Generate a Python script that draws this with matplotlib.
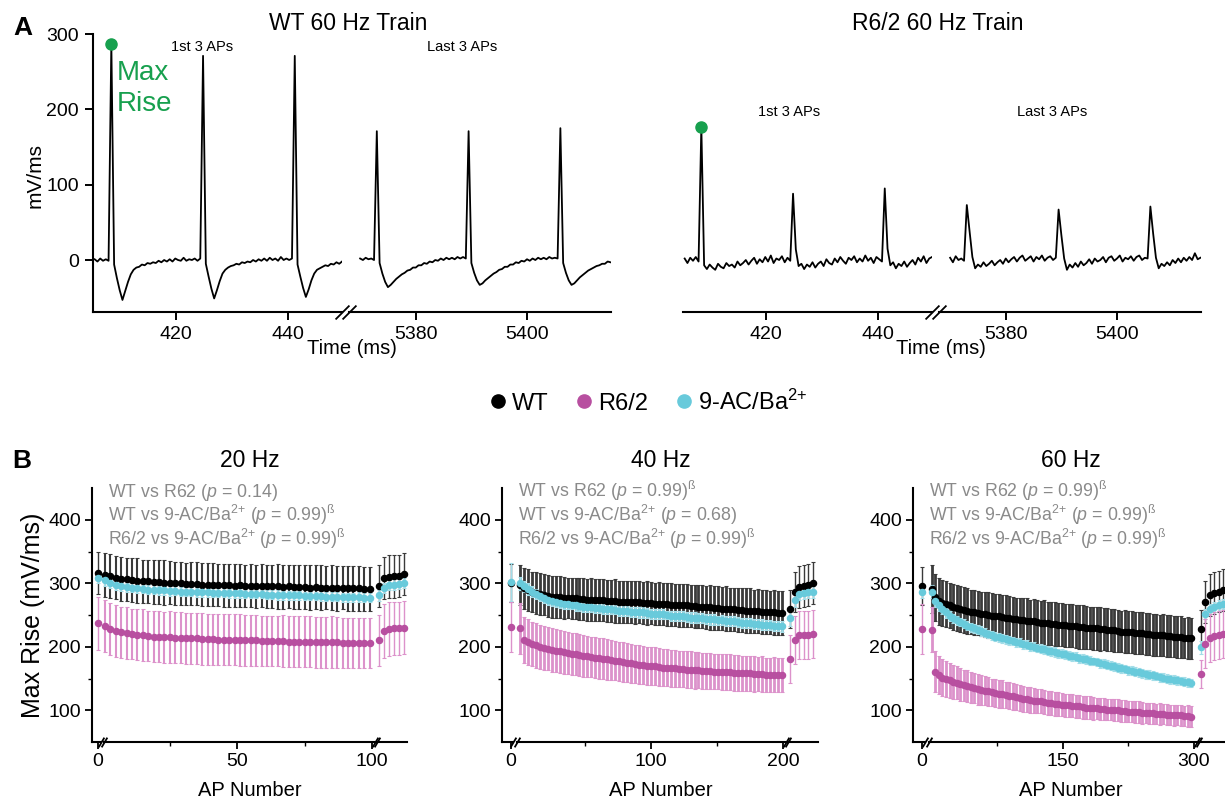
import matplotlib.pyplot as plt
from matplotlib.lines import Line2D
import numpy as np

plt.rcParams['font.family'] = ['Liberation Sans', 'DejaVu Sans']
plt.rcParams['mathtext.fontset'] = 'custom'
plt.rcParams['mathtext.rm'] = 'Liberation Sans'
plt.rcParams['mathtext.it'] = 'Liberation Sans:italic'
plt.rcParams['mathtext.bf'] = 'Liberation Sans:bold'

# colours
c_wt = 'black'
c_r62 = '#b84fa0'
c_ac = '#68cadb'
e_wt = '#3a3a3a'
e_r62 = '#dc92cb'
e_ac = '#a3dde8'
c_green = '#17a04e'
c_stat = '#8a8a8a'

# ---------------- panel A : dV/dt traces, sampled every 0.5 ms ----------------
dt = 0.5
t0_first = 405.3     # first 3 APs
t0_last = 5370.0     # last 3 APs

wt_first = [1, -2, 2, -1, 1, -1, 287, -6, -24, -40, -53, -41, -29, -19, -13, -10, -9, -6, -7, -4,
            -5, -3, -4, -1, -3, 0, -2, 1, -2, 2, 0, -1, 3, -1, 1, 0, 2, -1, 2, 271,
            -5, -22, -38, -51, -40, -28, -18, -13, -10, -8, -7, -5, -6, -3, -4, -2, -3, 0, -2, 1,
            -1, 2, -1, 3, 0, 2, -1, 4, 0, 2, 0, 2, 271, -6, -22, -37, -49, -39, -27, -18,
            -13, -11, -9, -7, -8, -5, -6, -3, -5, -2]
wt_last = [2, 0, 3, 1, 2, 0, 171, -4, -18, -29, -36, -33, -29, -25, -22, -19, -17, -14, -13, -10,
           -10, -7, -7, -4, -5, -2, -3, 0, -1, 2, 0, 3, 1, 3, 1, 4, 2, 4, 2, 171,
           -4, -17, -27, -33, -31, -27, -24, -21, -18, -16, -13, -12, -9, -9, -6, -6, -3, -4, -1, -2,
           1, -1, 2, 0, 3, 1, 3, 1, 4, 2, 3, 2, 175, -4, -17, -27, -33, -31, -27, -23,
           -20, -17, -14, -12, -10, -8, -7, -5, -5, -2, -3]
r62_first = [2, -4, 3, -1, 4, -2, 177, -7, -12, -6, -10, -13, -5, -9, -11, -4,
             -8, -6, -10, -2, -7, -4, 0, -6, -1, 3, -5, 1, -3, 4, -2, 6, -4, 2, 0, 5, -3, 3, -1, 88,
             14, -8, -5, -12, -6, -9, -3, -10, -5, -2, -8, 1, -4, -6, 2, -3, 4, -1, -5, 3,
             0, 5, -3, 2, -2, 6, -1, 3, -4, 4, 1, -2, 95, 15, -7, -3, -11, -5, -8, -2,
             -9, -4, 0, -6, 3, -2, 5, -4, 2, 4]
r62_last = [3, -3, 5, 0, 2, -1, 73, 38, 4, -11, -6, -9, -3, -8, -5, -1, -7, -3, 0,
            -5, 2, -3, 1, 4, -2, 3, 6, -1, 2, 5, -2, 4, 1, 6, -1, 3, 5, 0, 3, 67,
            33, 2, -13, -6, -10, -4, -9, -2, -7, -4, 1, -5, 2, -2, 0, 4, -3, 3, 5, -1,
            2, 6, -2, 3, 1, 5, -1, 4, 6, 0, 3, 2, 71, 35, 3, -11, -5, -8, -3, -7,
            0, -4, 2, -3, 3, -1, 4, 0, 9, 1, 3]

# ---------------- panel B : max rise per AP ----------------
rec_n = [1, 2, 3, 4, 5, 6]   # recovery APs after the train

# 20 Hz (every 2nd AP shown)
ap_20 = list(range(1, 101, 2))
wt_20 = [313, 311, 309, 307, 306, 305, 304, 303, 303, 302, 302, 301, 301, 300, 300, 299, 299, 299, 298, 298,
         298, 297, 297, 297, 296, 297, 296, 296, 295, 296, 295, 295, 295, 294, 295, 294, 294, 294, 293, 294,
         293, 293, 293, 292, 293, 292, 292, 292, 291, 291]
wt_20_sem = [35, 35, 34, 35, 34, 34, 35, 34, 34, 34, 34, 35, 34, 34, 34, 33, 34, 34, 34, 34,
             34, 33, 34, 34, 34, 34, 33, 34, 34, 34, 34, 34, 35, 34, 34, 34, 34, 34, 35, 34,
             35, 34, 35, 35, 34, 35, 35, 35, 35, 35]
ac_20 = [305, 301, 298, 296, 294, 293, 292, 291, 290, 290, 289, 289, 288, 288, 287, 287, 287, 286, 286, 286,
         285, 285, 285, 284, 284, 284, 283, 283, 283, 283, 282, 282, 282, 281, 281, 281, 281, 280, 280, 280,
         280, 279, 279, 279, 278, 278, 278, 278, 277, 277]
ac_20_sem = [9, 8, 8, 8, 7, 7, 8, 7, 7, 7, 7, 7, 8, 7, 7, 7, 7, 7, 7, 8,
             7, 7, 7, 7, 7, 8, 7, 7, 7, 7, 7, 7, 8, 7, 7, 7, 7, 7, 7, 7,
             8, 7, 7, 7, 7, 7, 7, 8, 7, 7]
r62_20 = [232, 228, 225, 223, 221, 220, 219, 218, 217, 216, 216, 215, 215, 214, 214, 213, 213, 213, 212, 212,
          212, 211, 211, 211, 211, 210, 210, 210, 210, 209, 209, 209, 209, 209, 208, 208, 208, 208, 208, 207,
          207, 207, 207, 207, 206, 206, 206, 206, 206, 206]
r62_20_sem = [41, 41, 41, 40, 41, 40, 40, 41, 40, 40, 40, 40, 41, 40, 40, 40, 40, 40, 41, 40,
              40, 40, 40, 40, 40, 41, 40, 40, 40, 40, 40, 40, 40, 41, 40, 40, 40, 40, 40, 40,
              40, 40, 41, 40, 40, 40, 40, 40, 40, 40]
pre_20 = [316, 309, 237]          # WT, 9-AC/Ba, R6/2
pre_20_sem = [33, 8, 42]
wt_20_rec = [295, 308, 310, 311, 312, 315]
wt_20_rec_sem = [33, 33, 34, 34, 33, 33]
ac_20_rec = [281, 293, 297, 298, 299, 300]
ac_20_rec_sem = [9, 8, 8, 8, 8, 8]
r62_20_rec = [210, 225, 228, 229, 229, 230]
r62_20_rec_sem = [40, 42, 42, 42, 42, 42]

# 40 Hz (every 3rd AP shown)
ap_40 = list(range(1, 201, 3))
wt_40 = [297, 292, 289, 286, 284, 283, 282, 280, 279, 278, 278, 277, 277, 276, 276, 275, 275, 274, 274, 273,
         273, 273, 272, 272, 272, 271, 271, 271, 270, 270, 270, 269, 269, 269, 268, 268, 267, 267, 266, 266,
         265, 265, 265, 264, 264, 263, 263, 262, 262, 261, 261, 260, 260, 259, 259, 258, 258, 257, 257, 256,
         256, 255, 255, 254, 254, 253, 253]
wt_40_sem = [32, 32, 33, 32, 33, 33, 32, 33, 33, 33, 33, 33, 32, 33, 33, 33, 33, 33, 34, 33,
             33, 33, 33, 33, 34, 33, 33, 33, 33, 34, 33, 33, 34, 33, 33, 34, 33, 34, 34, 33,
             34, 34, 34, 33, 34, 34, 34, 34, 35, 34, 34, 34, 35, 34, 34, 35, 34, 35, 35, 34,
             35, 35, 35, 34, 35, 35, 35]
ac_40 = [300, 295, 291, 287, 283, 280, 277, 274, 272, 270, 269, 268, 267, 266, 265, 264, 263, 263, 262, 261,
         261, 260, 259, 259, 258, 257, 257, 256, 255, 255, 254, 254, 253, 252, 252, 251, 251, 250, 249, 249,
         248, 248, 247, 246, 246, 245, 245, 244, 243, 243, 242, 242, 241, 240, 240, 239, 238, 238, 237, 236,
         236, 235, 234, 234, 233, 233, 232]
ac_40_sem = [10, 9, 9, 9, 8, 8, 8, 8, 8, 8, 8, 8, 8, 7, 8, 8, 8, 8, 8, 8,
             8, 8, 8, 8, 7, 8, 8, 8, 8, 8, 8, 8, 8, 8, 8, 8, 8, 7, 8, 8,
             8, 8, 8, 8, 8, 8, 8, 8, 8, 8, 7, 8, 8, 8, 8, 8, 8, 8, 8, 8,
             8, 8, 8, 8, 8, 8, 8]
r62_40 = [229, 211, 207, 204, 202, 200, 198, 197, 195, 194, 193, 191, 190, 189, 188, 187, 186, 185, 184, 183,
          182, 181, 180, 179, 178, 177, 176, 175, 174, 173, 172, 171, 170, 169, 169, 168, 167, 167, 166, 166,
          165, 165, 164, 164, 163, 163, 162, 162, 162, 161, 161, 160, 160, 160, 159, 159, 158, 158, 158, 157,
          157, 157, 156, 156, 156, 155, 155]
r62_40_sem = [40, 36, 36, 35, 35, 35, 35, 34, 34, 34, 34, 34, 33, 33, 33, 33, 33, 32, 32, 32,
              32, 32, 32, 31, 31, 31, 31, 31, 31, 30, 30, 30, 30, 30, 30, 30, 29, 29, 29, 29,
              29, 29, 29, 29, 29, 28, 28, 28, 28, 28, 28, 28, 28, 28, 28, 28, 28, 27, 28, 28,
              27, 28, 27, 27, 28, 27, 27]
pre_40 = [300, 302, 231]
pre_40_sem = [30, 30, 40]
wt_40_rec = [260, 286, 294, 296, 297, 300]
wt_40_rec_sem = [30, 32, 33, 33, 33, 33]
ac_40_rec = [245, 273, 283, 285, 286, 286]
ac_40_rec_sem = [12, 10, 10, 10, 10, 10]
r62_40_rec = [181, 211, 218, 219, 219, 220]
r62_40_rec_sem = [38, 38, 38, 38, 38, 38]

# 60 Hz (every 4th AP shown)
ap_60 = list(range(1, 301, 4))
wt_60 = [291, 278, 272, 269, 267, 265, 263, 261, 259, 258, 256, 255, 254, 253, 252, 251, 250, 249, 248, 248,
         247, 246, 245, 244, 243, 242, 242, 241, 240, 240, 239, 238, 238, 237, 236, 236, 235, 235, 234, 233,
         233, 232, 231, 231, 230, 230, 229, 229, 228, 228, 227, 226, 226, 225, 224, 224, 223, 223, 222, 222,
         221, 220, 220, 219, 219, 218, 218, 217, 217, 216, 215, 215, 214, 214, 213]
wt_60_sem = [38, 37, 37, 36, 36, 36, 36, 36, 36, 36, 36, 35, 36, 35, 35, 35, 36, 35, 35, 35,
             35, 35, 35, 35, 34, 35, 35, 35, 34, 35, 35, 34, 35, 34, 34, 35, 34, 34, 34, 34,
             34, 34, 34, 34, 34, 33, 34, 34, 34, 33, 34, 33, 34, 33, 33, 34, 33, 33, 33, 33,
             33, 33, 33, 33, 33, 32, 33, 33, 33, 32, 33, 33, 32, 33, 33]
ac_60 = [287, 272, 265, 259, 254, 249, 245, 242, 239, 236, 233, 231, 229, 227, 225, 222, 220, 218, 216, 215,
         213, 212, 210, 209, 207, 206, 204, 203, 201, 200, 198, 197, 196, 194, 193, 192, 190, 189, 188, 186,
         185, 184, 182, 181, 180, 178, 177, 176, 174, 173, 172, 170, 169, 167, 166, 165, 163, 162, 161, 160,
         158, 157, 156, 155, 154, 152, 151, 150, 149, 148, 147, 146, 145, 144, 143]
ac_60_sem = [10, 9, 8, 8, 8, 8, 7, 7, 7, 7, 7, 7, 7, 7, 8, 7, 7, 7, 7, 7,
             7, 7, 7, 6, 7, 7, 7, 7, 7, 7, 7, 7, 7, 7, 7, 8, 7, 7, 7, 7,
             7, 7, 7, 7, 7, 7, 6, 7, 7, 7, 7, 7, 7, 7, 7, 7, 7, 7, 7, 7,
             7, 7, 7, 7, 7, 7, 7, 7, 7, 7, 7, 7, 7, 7, 7]
r62_60 = [227, 161, 155, 151, 149, 147, 145, 143, 141, 139, 138, 136, 135, 133, 132, 131, 130, 128, 127, 126,
          125, 124, 123, 122, 121, 119, 118, 117, 116, 115, 115, 114, 113, 112, 111, 110, 110, 109, 108, 108,
          107, 106, 106, 105, 104, 104, 103, 103, 102, 102, 101, 101, 100, 100, 99, 99, 98, 98, 97, 97,
          96, 96, 95, 95, 94, 94, 94, 93, 93, 92, 92, 92, 91, 91, 90]
r62_60_sem = [36, 32, 30, 29, 28, 27, 27, 26, 26, 25, 25, 24, 24, 24, 23, 23, 23, 22, 22, 22,
              22, 21, 21, 21, 21, 20, 20, 20, 20, 20, 19, 19, 19, 19, 19, 19, 19, 18, 18, 18,
              18, 18, 18, 18, 18, 18, 18, 17, 17, 17, 17, 17, 17, 17, 17, 17, 17, 17, 17, 17,
              17, 16, 17, 17, 16, 17, 16, 17, 16, 17, 16, 17, 16, 17, 17]
pre_60 = [296, 287, 228]
pre_60_sem = [30, 10, 40]
wt_60_rec = [228, 270, 281, 285, 287, 290]
wt_60_rec_sem = [30, 33, 33, 33, 33, 33]
ac_60_rec = [199, 252, 260, 263, 265, 267]
ac_60_rec_sem = [10, 8, 8, 8, 8, 8]
r62_60_rec = [157, 205, 214, 217, 219, 220]
r62_60_rec_sem = [22, 38, 38, 38, 38, 38]

beta = r'$^{\mathrm{ß}}$'
ba = r'Ba$^{2{+}}$'
stats_20 = ['WT vs R62 ($p$ = 0.14)',
            'WT vs 9-AC/' + ba + ' ($p$ = 0.99)' + beta,
            'R6/2 vs 9-AC/' + ba + ' ($p$ = 0.99)' + beta]
stats_40 = ['WT vs R62 ($p$ = 0.99)' + beta,
            'WT vs 9-AC/' + ba + ' ($p$ = 0.68)',
            'R6/2 vs 9-AC/' + ba + ' ($p$ = 0.99)' + beta]
stats_60 = ['WT vs R62 ($p$ = 0.99)' + beta,
            'WT vs 9-AC/' + ba + ' ($p$ = 0.99)' + beta,
            'R6/2 vs 9-AC/' + ba + ' ($p$ = 0.99)' + beta]

groups = ['WT', 'R6/2', '9-AC/' + ba]
group_colors = [c_wt, c_r62, c_ac]

# ---------------- figure ----------------
W, H = 1225, 801
fig = plt.figure(figsize=(W / 100, H / 100), dpi=100)


def box(x0, y0, x1, y1):
    # pixel rectangle (from top-left) -> figure fraction
    return [x0 / W, 1 - y1 / H, (x1 - x0) / W, (y1 - y0) / H]


def ftext(x, y, s, **kw):
    return fig.text(x / W, 1 - y / H, s, **kw)


def slash(ax, xa, ms, slope):
    ax.plot([xa], [0], transform=ax.transAxes, marker=[(-1, -slope), (1, slope)],
            ms=ms, mew=1.3, color='k', mec='k', ls='none', clip_on=False, zorder=6)


def style(ax, left):
    ax.patch.set_visible(False)
    ax.spines['top'].set_visible(False)
    ax.spines['right'].set_visible(False)
    ax.spines['left'].set_visible(left)
    ax.spines['left'].set_linewidth(1.5)
    ax.spines['bottom'].set_linewidth(1.5)
    if not left:
        ax.tick_params(axis='y', which='both', left=False, labelleft=False)


def trace_panel(x_left, first, last, show_y):
    t_first = t0_first + dt * np.arange(len(first))
    t_last = t0_last + dt * np.arange(len(last))
    ax1 = fig.add_axes(box(x_left, 34, x_left + 249, 312))
    ax2 = fig.add_axes(box(x_left + 256, 34, x_left + 518, 312))
    ax1.plot(t_first, first, color='k', lw=1.3)
    ax2.plot(t_last, last, color='k', lw=1.3)
    ax1.set_xlim(405, 449.8)
    ax2.set_xlim(5368, 5415.1)
    for ax in (ax1, ax2):
        ax.set_ylim(-69, 300)
        style(ax, ax is ax1 and show_y)
        ax.tick_params(length=6, width=1.4, labelsize=14, pad=4)
    ax1.set_xticks([420, 440])
    ax2.set_xticks([5380, 5400])
    ax1.set_yticks([0, 100, 200, 300])
    k = int(np.argmax(first))
    ax1.plot(t_first[k], first[k], 'o', color=c_green, ms=8, clip_on=False, zorder=5)
    slash(ax1, 1, 10, 1.0)
    slash(ax2, 0, 10, 1.0)
    return ax1, ax2


wt_ax1, wt_ax2 = trace_panel(93, wt_first, wt_last, True)
r62_ax1, r62_ax2 = trace_panel(683, r62_first, r62_last, False)

ftext(23, 28, 'A', fontsize=19, fontweight='bold', ha='center', va='center')
ftext(348, 23, 'WT 60 Hz Train', fontsize=16.5, ha='center', va='center')
ftext(938, 23, 'R6/2 60 Hz Train', fontsize=16.5, ha='center', va='center')
ftext(202, 47, '1st 3 APs', fontsize=10.5, ha='center', va='center')
ftext(462, 47, 'Last 3 APs', fontsize=10.5, ha='center', va='center')
ftext(789, 112, '1st 3 APs', fontsize=10.5, ha='center', va='center')
ftext(1052, 112, 'Last 3 APs', fontsize=10.5, ha='center', va='center')
ftext(117, 60, 'Max\nRise', fontsize=20, color=c_green, ha='left', va='top', linespacing=1.25)
ftext(35, 176, 'mV/ms', fontsize=15, rotation=90, ha='center', va='center')
ftext(352, 349, 'Time (ms)', fontsize=14.5, ha='center', va='center')
ftext(941, 349, 'Time (ms)', fontsize=14.5, ha='center', va='center')

handles = [Line2D([], [], marker='o', ls='none', color=c, ms=9.5) for c in group_colors]
fig.legend(handles, groups, loc='center', bbox_to_anchor=(647 / W, 1 - 402 / H), ncol=3,
           frameon=False, fontsize=17, handletextpad=0.1, columnspacing=1.0, handlelength=1.0,
           borderaxespad=0)


def draw(ax, x, y, e, color, ecolor, elw):
    ax.errorbar(x, y, yerr=e, fmt='o', ms=4.4, color=color, mec=color, ecolor=ecolor,
                elinewidth=elw, capsize=1.5, capthick=0.8, clip_on=False)


def rise_panel(segs, major, minor, ap, series, pre, pre_sem, title, title_x, stats, elw):
    (a_px, a_lim), (b_px, b_lim), (c_px, c_lim) = segs
    ax_a = fig.add_axes(box(a_px[0], 488, a_px[1], 742))
    ax_b = fig.add_axes(box(b_px[0], 488, b_px[1], 742))
    ax_c = fig.add_axes(box(c_px[0], 488, c_px[1], 742))
    for ax, lim in ((ax_a, a_lim), (ax_b, b_lim), (ax_c, c_lim)):
        ax.set_xlim(*lim)
        ax.set_ylim(50, 450)
        style(ax, ax is ax_a)
        ax.tick_params(which='major', length=5, width=1.3, labelsize=14, pad=3)
        ax.tick_params(which='minor', length=3, width=1.0)
    ax_a.set_yticks([100, 200, 300, 400])
    ax_a.set_yticks([150, 250, 350], minor=True)
    ax_a.set_xticks([0])
    ax_b.set_xticks(major)
    ax_b.set_xticks(minor, minor=True)
    ax_c.set_xticks([])
    for i, (mean, sem, rec, rec_sem, color, ecolor) in enumerate(series):
        draw(ax_a, [0], [pre[i]], [pre_sem[i]], color, ecolor, 1.0)
        draw(ax_b, ap, mean, sem, color, ecolor, elw)
        draw(ax_c, rec_n, rec, rec_sem, color, ecolor, 1.0)
    slash(ax_a, 1, 7, 1.7)
    slash(ax_b, 0, 7, 1.7)
    slash(ax_b, 1, 7, 1.7)
    slash(ax_c, 0, 7, 1.7)
    ftext(title_x, 461, title, fontsize=16.5, ha='center', va='center')
    ftext(title_x, 790, 'AP Number', fontsize=14.5, ha='center', va='center')
    for j, s in enumerate(stats):
        ftext(a_px[0] + 16, 497 + 24 * j, s, fontsize=12.8, color=c_stat, ha='left', va='baseline')
    return ax_a


rise_panel((((92, 101), (-2.2, 1.1)), ((104, 375), (0.63, 101.0)), ((377, 407), (0.6, 6.6))),
           [50, 100], [25, 75], ap_20,
           [(wt_20, wt_20_sem, wt_20_rec, wt_20_rec_sem, c_wt, e_wt),
            (ac_20, ac_20_sem, ac_20_rec, ac_20_rec_sem, c_ac, e_ac),
            (r62_20, r62_20_sem, r62_20_rec, r62_20_rec_sem, c_r62, e_r62)],
           pre_20, pre_20_sem, '20 Hz', 250, stats_20, 1.5)
rise_panel((((502, 513), (-6.8, 1.5)), ((517, 786), (-1.27, 202.2)), ((788, 818), (0.56, 7.2))),
           [100, 200], [50, 150], ap_40,
           [(wt_40, wt_40_sem, wt_40_rec, wt_40_rec_sem, c_wt, e_wt),
            (ac_40, ac_40_sem, ac_40_rec, ac_40_rec_sem, c_ac, e_ac),
            (r62_40, r62_40_sem, r62_40_rec, r62_40_rec_sem, c_r62, e_r62)],
           pre_40, pre_40_sem, '40 Hz', 661, stats_40, 2.0)
rise_panel((((913, 925), (-10.3, 3.4)), ((929, 1197), (-2.4, 303.5)), ((1199, 1225), (0.55, 6.45))),
           [150, 300], [75, 225], ap_60,
           [(wt_60, wt_60_sem, wt_60_rec, wt_60_rec_sem, c_wt, e_wt),
            (ac_60, ac_60_sem, ac_60_rec, ac_60_rec_sem, c_ac, e_ac),
            (r62_60, r62_60_sem, r62_60_rec, r62_60_rec_sem, c_r62, e_r62)],
           pre_60, pre_60_sem, '60 Hz', 1071, stats_60, 2.0)

ftext(22, 461, 'B', fontsize=19, fontweight='bold', ha='center', va='center')
ftext(33, 615, 'Max Rise (mV/ms)', fontsize=18, rotation=90, ha='center', va='center')

fig.savefig('out.png', dpi=100)
